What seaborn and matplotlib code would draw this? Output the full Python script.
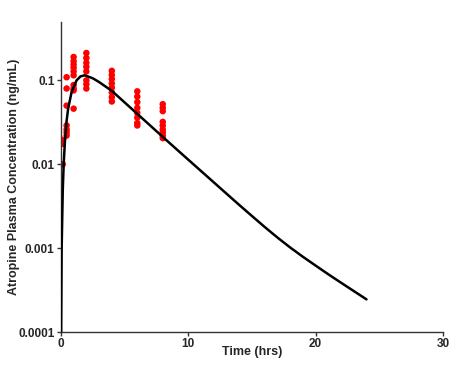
import numpy as np
import pandas as pd
import matplotlib
matplotlib.use('Agg')
import matplotlib.pyplot as plt
import seaborn as sns

# --- Observed plasma concentrations (ng/mL) by sampling time (hrs) ---
conc_early = [0.0195, 0.0175, 0.010]
conc_0p5h = [0.109, 0.080, 0.050, 0.029, 0.026, 0.024, 0.022]
conc_1h = [0.19, 0.17, 0.155, 0.142, 0.128, 0.115, 0.088, 0.080, 0.076, 0.046]
conc_2h = [0.212, 0.185, 0.162, 0.145, 0.128, 0.100, 0.090, 0.080]
conc_4h = [0.130, 0.116, 0.104, 0.092, 0.082, 0.072, 0.063, 0.056]
conc_6h = [0.074, 0.064, 0.055, 0.047, 0.041, 0.036, 0.031, 0.029]
conc_8h = [0.052, 0.047, 0.043, 0.032, 0.029, 0.026, 0.024, 0.022, 0.0205]

sample_times = [0.15, 0.45, 1, 2, 4, 6, 8]
observed = [conc_early, conc_0p5h, conc_1h, conc_2h, conc_4h, conc_6h, conc_8h]

# --- Model prediction curve ---
model_time = [0.015, 0.06, 0.15, 0.22, 0.31, 0.44, 0.57, 0.84, 1.23, 1.54, 1.88,
              2.5, 3, 4, 5, 6, 7, 8, 9, 10, 11, 12, 13, 14, 15, 16, 17, 18,
              19, 20, 21, 22, 23, 24]
model_conc = [0.00008, 0.001, 0.005, 0.010, 0.018, 0.032, 0.046, 0.0725, 0.100,
              0.1116, 0.115, 0.106, 0.0955, 0.075, 0.0547, 0.0399, 0.0291,
              0.0212, 0.0155, 0.01135, 0.00832, 0.00610, 0.00447, 0.00328,
              0.00242, 0.00179, 0.00134, 0.00102, 0.000790, 0.000620,
              0.000488, 0.000387, 0.000308, 0.000245]

obs_df = pd.DataFrame({
    'time': [t for t, vals in zip(sample_times, observed) for _ in vals],
    'conc': [v for vals in observed for v in vals],
})
model_df = pd.DataFrame({'time': model_time, 'conc': model_conc})

# --- Plot ---
sns.set_style('ticks')
plt.rcParams['font.family'] = ['Liberation Sans', 'DejaVu Sans']

fig = plt.figure(figsize=(4.51, 3.65), dpi=100)
ax = fig.add_axes([0.135, 0.0904, 0.847, 0.85])

sns.scatterplot(data=obs_df, x='time', y='conc', color='#ff0000', s=22,
                edgecolor='none', ax=ax, zorder=2)
sns.lineplot(data=model_df, x='time', y='conc', color='black', linewidth=1.8,
             sort=False, estimator=None, ax=ax, zorder=3)

ax.set_yscale('log')
ax.set_xlim(0, 30)
ax.set_ylim(0.0001, 0.5)
ax.set_xticks([0, 10, 20, 30])
ax.set_yticks([0.0001, 0.001, 0.01, 0.1])
ax.set_yticklabels(['0.0001', '0.001', '0.01', '0.1'])
ax.yaxis.set_minor_locator(matplotlib.ticker.NullLocator())

ax.tick_params(axis='both', labelsize=8.5, length=3, width=1, pad=1.5,
               color='#333333')
for lbl in ax.get_xticklabels() + ax.get_yticklabels():
    lbl.set_fontweight('bold')

ax.set_xlabel('Time (hrs)', fontsize=9, fontweight='bold')
ax.set_ylabel('Atropine Plasma Concentration (ng/mL)', fontsize=9,
              fontweight='bold')
ax.xaxis.set_label_coords(0.5, -0.045)
ax.yaxis.set_label_coords(-0.106, 0.5)

sns.despine(ax=ax)
for side in ['left', 'bottom']:
    ax.spines[side].set_color('#333333')
    ax.spines[side].set_linewidth(1)

fig.savefig('out.png', dpi=100)
